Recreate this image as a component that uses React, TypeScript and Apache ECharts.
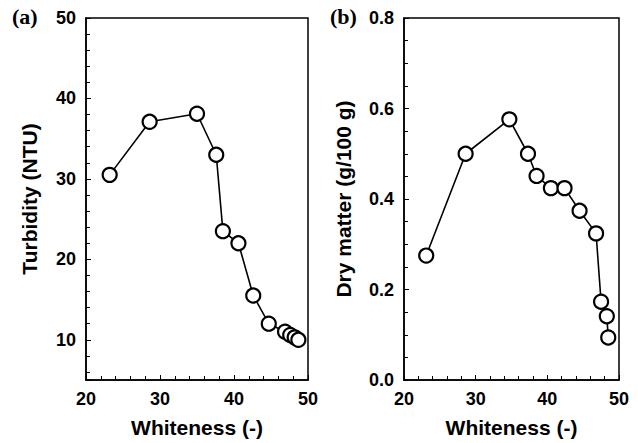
import React, { useEffect, useRef } from "react";
import * as echarts from "echarts";

const whitenessA = [23.2, 28.6, 35.0, 37.6, 38.5, 40.6, 42.6, 44.7, 46.9, 47.6, 48.2, 48.7];
const turbidity = [30.5, 37.1, 38.1, 33.0, 23.5, 22.0, 15.5, 12.0, 11.0, 10.6, 10.3, 10.0];

const whitenessB = [23.1, 28.6, 34.7, 37.3, 38.5, 40.5, 42.4, 44.5, 46.8, 47.5, 48.3, 48.5];
const dryMatter = [0.275, 0.5, 0.576, 0.5, 0.451, 0.424, 0.424, 0.374, 0.324, 0.173, 0.141, 0.094];

const FONT = "Arial, 'Liberation Sans', sans-serif";

export default function App() {
  const ref = useRef<HTMLDivElement>(null);
  useEffect(() => {
    if (!ref.current) return;
    const chart = echarts.init(ref.current, null, { renderer: "svg" });
    const axisCommon = {
      axisLine: { show: true, lineStyle: { color: "#000", width: 1.5 } },
      axisTick: { show: true, inside: true, length: 5, lineStyle: { color: "#000", width: 1 } },
      minorTick: { show: true, length: 4, lineStyle: { color: "#000", width: 1 } },
      splitLine: { show: false },
      axisLabel: { color: "#000", fontFamily: FONT, fontWeight: "bold", fontSize: 18 },
      nameTextStyle: { color: "#000", fontFamily: FONT, fontWeight: "bold", fontSize: 21 },
    };
    const mkX = (gridIndex: number) => ({
      ...axisCommon,
      type: "value",
      gridIndex,
      min: 20,
      max: 50,
      interval: 10,
      minorTick: { ...axisCommon.minorTick, splitNumber: 5 },
      axisLabel: { ...axisCommon.axisLabel, margin: 10 },
      name: "Whiteness (-)",
      nameLocation: "middle",
      nameGap: 37,
    });
    const seriesCommon = {
      type: "line",
      symbol: "circle",
      symbolSize: 14,
      lineStyle: { color: "#000", width: 1.6 },
      itemStyle: { color: "#fff", borderColor: "#000", borderWidth: 2.2 },
    };
    chart.setOption({
      animation: false,
      backgroundColor: "#fff",
      grid: [
        { left: 86, top: 18, width: 222, height: 362, show: true, borderColor: "#000", borderWidth: 1.5 },
        { left: 404, top: 18, width: 215, height: 362, show: true, borderColor: "#000", borderWidth: 1.5 },
      ],
      xAxis: [mkX(0), mkX(1)],
      yAxis: [
        {
          ...axisCommon,
          type: "value",
          gridIndex: 0,
          min: 5,
          max: 50,
          splitNumber: 5,
          minorTick: { ...axisCommon.minorTick, splitNumber: 5 },
          axisLabel: {
            ...axisCommon.axisLabel,
            margin: 10,
            showMinLabel: false,
            formatter: (v: number) => (v % 10 === 0 ? String(v) : ""),
          },
          name: "Turbidity (NTU)",
          nameLocation: "middle",
          nameGap: 46,
        },
        {
          ...axisCommon,
          type: "value",
          gridIndex: 1,
          min: 0,
          max: 0.8,
          interval: 0.2,
          minorTick: { ...axisCommon.minorTick, splitNumber: 4 },
          axisLabel: {
            ...axisCommon.axisLabel,
            margin: 10,
            formatter: (v: number) => v.toFixed(1),
          },
          name: "Dry matter (g/100 g)",
          nameLocation: "middle",
          nameGap: 50,
        },
      ],
      graphic: [
        {
          type: "text",
          left: 12,
          top: 5,
          style: { text: "(a)", font: "bold 22px 'Liberation Serif', 'Times New Roman', serif", fill: "#000" },
        },
        {
          type: "text",
          left: 330,
          top: 5,
          style: { text: "(b)", font: "bold 22px 'Liberation Serif', 'Times New Roman', serif", fill: "#000" },
        },
      ],
      series: [
        {
          ...seriesCommon,
          xAxisIndex: 0,
          yAxisIndex: 0,
          data: whitenessA.map((x, i) => [x, turbidity[i]]),
        },
        {
          ...seriesCommon,
          xAxisIndex: 1,
          yAxisIndex: 1,
          data: whitenessB.map((x, i) => [x, dryMatter[i]]),
        },
      ],
    });
    return () => chart.dispose();
  }, []);
  return (
    <div
      ref={ref}
      style={{ position: "absolute", left: 0, top: 0, width: 638, height: 443 }}
    />
  );
}
